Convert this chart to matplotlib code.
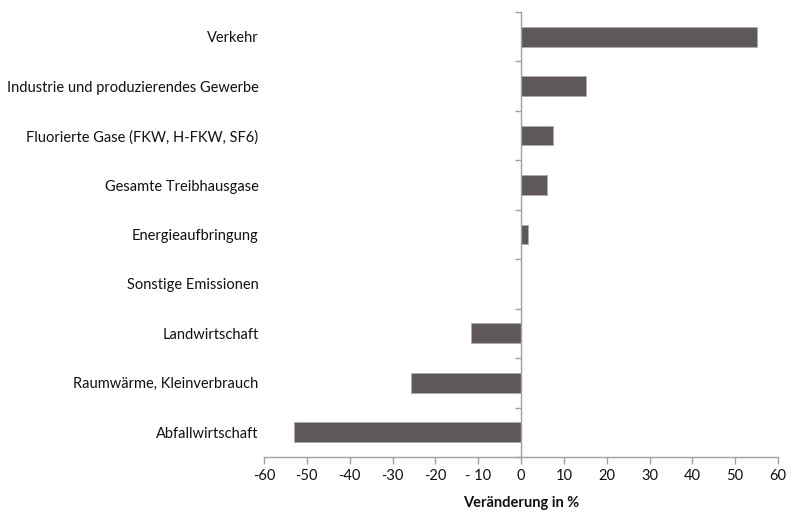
import matplotlib
matplotlib.use("Agg")
import matplotlib.pyplot as plt
import numpy as np

categories = ["Verkehr", "Industrie und produzierendes Gewerbe",
              "Fluorierte Gase (FKW, H-FKW, SF6)", "Gesamte Treibhausgase",
              "Energieaufbringung", "Sonstige Emissionen", "Landwirtschaft",
              "Raumwärme, Kleinverbrauch", "Abfallwirtschaft"]
values = [55.2, 15.2, 7.5, 6.1, 1.6, 0.0, -11.7, -25.7, -53.0]
xticks = [-60, -50, -40, -30, -20, -10, 0, 10, 20, 30, 40, 50, 60]
xticklabels = ["-60", "-50", "-40", "-30", "-20", "- 10", "0", "10", "20", "30", "40", "50", "60"]

plt.rcParams['font.family'] = ['Lato', 'DejaVu Sans']
fig = plt.figure(figsize=(8, 5.19), dpi=100)
rect = [0.33, 0.1195, 0.6425, 0.8575]
ax = fig.add_axes(rect)

y = np.arange(len(categories))
ax.barh(y, values, height=0.4, color="#5e5958", edgecolor="#b0acaa", linewidth=0.6, zorder=2)
ylim = (len(categories) - 0.5, -0.5)
xlim = (-60, 60)
ax.set_ylim(*ylim)
ax.set_xlim(*xlim)

ax.set_xticks(xticks)
ax.set_xticklabels(xticklabels, fontsize=10.5, color="#111111")
ax.tick_params(axis='x', direction='out', length=5, color="#a0a0a0", width=1, pad=4)
ax.set_yticks(y)
ax.set_yticklabels(categories, fontsize=10.5, color="#111111")
ax.tick_params(axis='y', length=0, pad=4)

for s in ["top", "right", "left"]:
    ax.spines[s].set_visible(False)
ax.spines["bottom"].set_color("#a0a0a0")
ax.spines["bottom"].set_linewidth(1)

# overlay axes: vertical axis line at x = 0 with ticks at category boundaries
ax2 = fig.add_axes(rect)
ax2.set_xlim(*xlim)
ax2.set_ylim(*ylim)
ax2.patch.set_visible(False)
for s in ["top", "right", "bottom"]:
    ax2.spines[s].set_visible(False)
ax2.spines["left"].set_position(("data", 0))
ax2.spines["left"].set_color("#a0a0a0")
ax2.spines["left"].set_linewidth(1)
ax2.xaxis.set_visible(False)
ax2.set_yticks(np.arange(len(categories) + 1) - 0.5)
ax2.set_yticklabels([])
ax2.tick_params(axis='y', direction='out', length=4, color="#a0a0a0", width=1)

ax.set_xlabel("Veränderung in %", fontsize=10.5, fontweight='bold', color="#111111", labelpad=9)

fig.savefig("out.png", dpi=100)
